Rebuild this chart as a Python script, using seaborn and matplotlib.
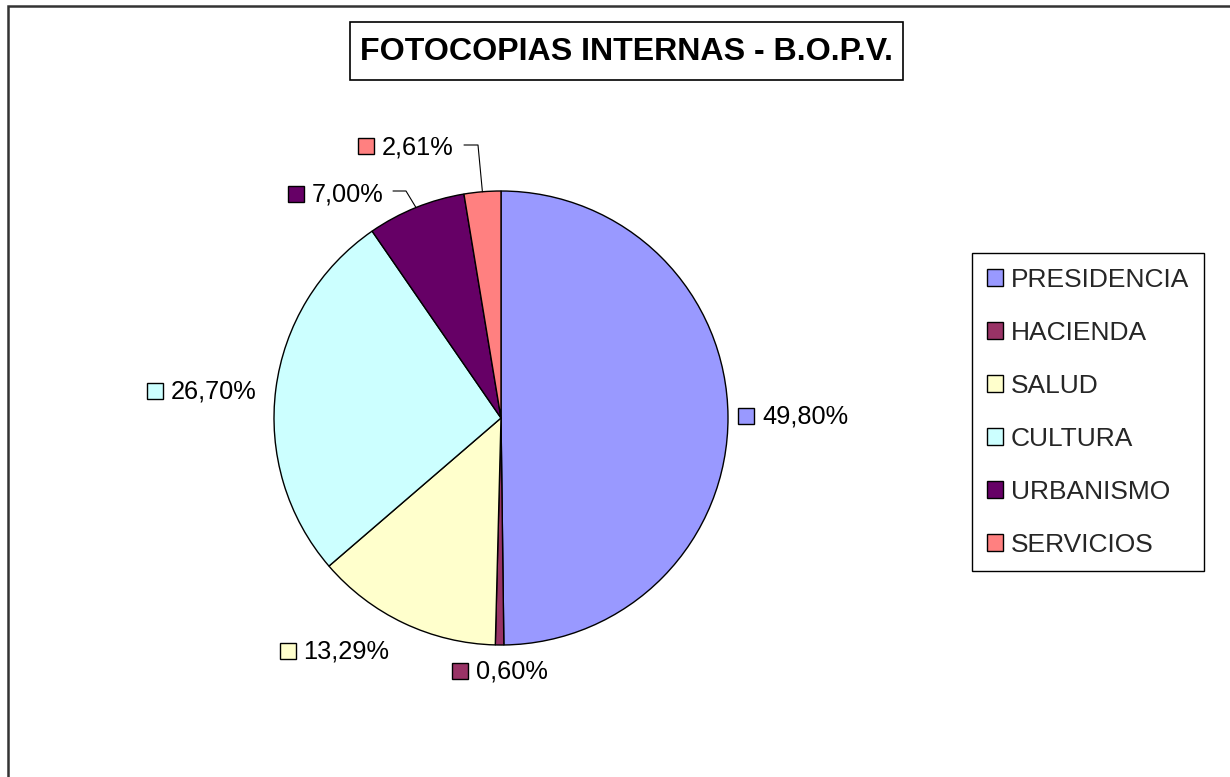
import matplotlib
matplotlib.use("Agg")
import matplotlib.pyplot as plt
from matplotlib.patches import Rectangle
import seaborn as sns
import math

# ---- data ----
categories = ["PRESIDENCIA", "HACIENDA", "SALUD", "CULTURA", "URBANISMO", "SERVICIOS"]
values = [49.80, 0.60, 13.29, 26.70, 7.00, 2.61]
colors = ["#9999FF", "#993366", "#FFFFCC", "#CCFFFF", "#660066", "#FF8080"]
title = "FOTOCOPIAS INTERNAS - B.O.P.V."

# ---- layout (pixels) ----
W, H = 1230, 777
R = 227.0            # pie radius in px
CX, CY = 501, 418    # pie centre in px (from top-left)
# label square centres, in px relative to pie centre (y up)
label_pos = [(245, 2.5), (-41.5, -253), (-213.5, -232.5), (-346, 27.5),
             (-205.5, 224.5), (-135.5, 272)]
# leader lines: (start, elbow) in px relative to centre; end is wedge edge
leaders = {4: [(-108, 227), (-95, 227)], 5: [(-37, 273), (-23, 273)]}

sns.set_theme(style="white")
plt.rcParams["font.family"] = ["Liberation Sans", "DejaVu Sans"]

fig = plt.figure(figsize=(W / 100, H / 100), dpi=100)
fig.patch.set_facecolor("white")
ax = fig.add_axes([0, 0, 1, 1])

wedges, _ = ax.pie(values, colors=colors, startangle=90, counterclock=False,
                   radius=1.0, center=(0, 0),
                   wedgeprops=dict(edgecolor="black", linewidth=1.0))

ax.set_aspect("auto")
ax.set_xlim(-CX / R, (W - CX) / R)
ax.set_ylim(-(H - CY) / R, CY / R)
ax.axis("off")

# data labels
cum = 0.0
total = sum(values)
for i, v in enumerate(values):
    mid = cum + v / 2
    cum += v
    ang = math.radians(90 - 360 * mid / total)
    sx, sy = label_pos[i][0] / R, label_pos[i][1] / R
    ax.plot([sx], [sy], marker="s", ms=11, mfc=colors[i], mec="black",
            mew=1.0, clip_on=False, linestyle="none")
    txt = f"{v:.2f}%".replace(".", ",")
    ax.text(sx + 16 / R, sy - 1 / R, txt, ha="left", va="center",
            fontsize=18.3, color="black")
    if i in leaders:
        (x0, y0), (x1, y1) = leaders[i]
        ax.plot([x0 / R, x1 / R, math.cos(ang)], [y0 / R, y1 / R, math.sin(ang)],
                color="black", lw=0.8, clip_on=False)

# legend
leg = ax.legend(wedges, categories, loc="upper left",
                bbox_to_anchor=(972 / W, 1 - 253 / H), bbox_transform=fig.transFigure,
                fontsize=19, frameon=True, fancybox=False, framealpha=1,
                edgecolor="black", handlelength=0.62, handleheight=0.62,
                handletextpad=0.3, labelspacing=1.1, borderpad=0.55,
                borderaxespad=0)
leg.get_frame().set_linewidth(1.0)

# title box
fig.patches.append(Rectangle((350 / W, 1 - 80 / H), (903 - 350) / W, 58 / H,
                             transform=fig.transFigure, fill=False,
                             edgecolor="black", linewidth=1.2))
fig.text(626.5 / W, 1 - 51.5 / H, title, ha="center", va="center",
         fontsize=23.1, fontweight="bold", color="black")

# outer chart frame (right/bottom beyond image edge)
fig.patches.append(Rectangle((8 / W, -0.1), 1.2, 1 - 6 / H + 0.1,
                             transform=fig.transFigure, fill=False,
                             edgecolor="#333333", linewidth=1.8))

fig.savefig("out.png", dpi=100)
